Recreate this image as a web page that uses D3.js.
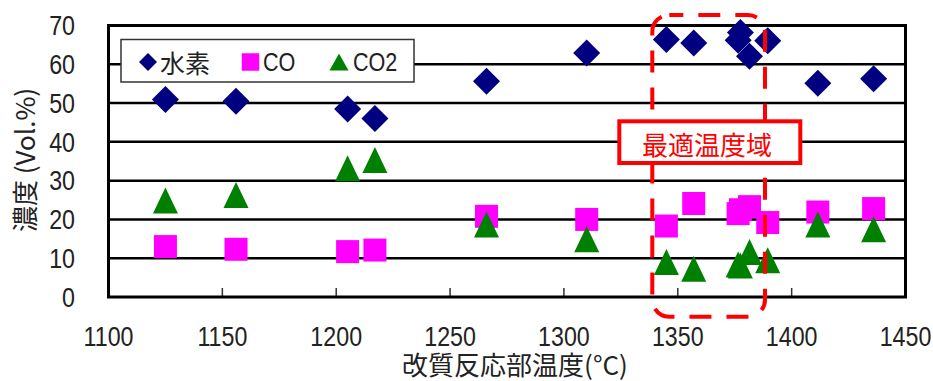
<!DOCTYPE html>
<html>
<head>
<meta charset="utf-8">
<script src="https://cdn.jsdelivr.net/npm/d3@7"></script>
<style>
  html, body { margin: 0; padding: 0; background: #fff; }
  svg { display: block; }
</style>
</head>
<body>
<svg id="chart" width="933" height="381"></svg>
<script>
// ---- data ----
const temps = [1125, 1156, 1205, 1217, 1266, 1310, 1345, 1357, 1376.5, 1377.5, 1381.5, 1389.5, 1411.5, 1436];
const h2    = [50.9, 50.5, 48.5, 46.0, 55.6, 62.9, 66.4, 65.5, 66.2, 68.2, 62.1, 66.1, 55.1, 56.3];
const co    = [13.0, 12.3, 11.7, 12.1, 20.8, 20.0, 18.3, 24.1, 21.5, 22.5, 23.3, 19.2, 21.9, 22.8];
const co2   = [24.9, 26.3, 33.2, 35.3, 18.7, 14.9, 9.0, 7.3, 8.4, 8.1, 11.6, 9.5, 18.7, 17.5];
const seriesNames = ["水素", "CO", "CO2"];
const xTicks = [1100, 1150, 1200, 1250, 1300, 1350, 1400, 1450];
const yTicks = [0, 10, 20, 30, 40, 50, 60, 70];
const xTitle = "改質反応部温度(°C)";
const yTitle = "濃度 (Vol.%)";
const annotationText = "最適温度域";

// ---- setup ----
const svg = d3.select("#chart");
const x = d3.scaleLinear().domain([1100, 1450]).range([108.5, 905.5]);
const y = d3.scaleLinear().domain([0, 70]).range([297, 25.5]);
const numFont = "'Liberation Sans', Arial, sans-serif";
const cjkFont = "'Noto Sans CJK JP', 'Noto Sans CJK SC', sans-serif";
const colors = { h2: "#000080", co: "#ff00ff", co2: "#008000" };
const NARROW = 0.83;

// gridlines
svg.append("g").selectAll("line").data(yTicks.filter(v => v > 0 && v < 70)).join("line")
  .attr("x1", x(1100)).attr("x2", x(1450))
  .attr("y1", d => y(d)).attr("y2", d => y(d))
  .attr("stroke", "#000").attr("stroke-width", 2.5);

// inner bottom ticks
svg.append("g").selectAll("line").data(xTicks.slice(1, -1)).join("line")
  .attr("x1", d => x(d)).attr("x2", d => x(d))
  .attr("y1", y(0)).attr("y2", y(0) - 9)
  .attr("stroke", "#333").attr("stroke-width", 1.5);

// frame
svg.append("rect")
  .attr("x", x(1100)).attr("y", y(70))
  .attr("width", x(1450) - x(1100)).attr("height", y(0) - y(70))
  .attr("fill", "none").attr("stroke", "#000").attr("stroke-width", 3);

// tick labels (narrow digits)
svg.append("g").selectAll("text").data(xTicks).join("text")
  .attr("transform", d => `translate(${x(d)},336) scale(${NARROW},1)`)
  .attr("text-anchor", "middle").attr("dominant-baseline", "central")
  .attr("font-family", numFont).attr("font-size", 28).attr("fill", "#222")
  .text(d => d);
svg.append("g").selectAll("text").data(yTicks).join("text")
  .attr("transform", d => `translate(75,${y(d)}) scale(${NARROW},1)`)
  .attr("text-anchor", "end").attr("dominant-baseline", "central")
  .attr("font-family", numFont).attr("font-size", 28).attr("fill", "#222")
  .text(d => d);

// axis titles
svg.append("text")
  .attr("x", 515).attr("y", 363)
  .attr("text-anchor", "middle").attr("dominant-baseline", "central")
  .attr("font-family", cjkFont).attr("font-size", 26).attr("fill", "#222")
  .text(xTitle);
svg.append("text")
  .attr("transform", "translate(23,160) rotate(-90)")
  .attr("text-anchor", "middle").attr("dominant-baseline", "central")
  .attr("font-family", cjkFont).attr("font-size", 26).attr("fill", "#222")
  .text(yTitle);

// marker path generators
function diamond(cx, cy, r) { return `M${cx},${cy - r}L${cx + r},${cy}L${cx},${cy + r}L${cx - r},${cy}Z`; }
function square(cx, cy, s) { return `M${cx - s / 2},${cy - s / 2}h${s}v${s}h${-s}Z`; }
function triangle(cx, cy, w, h) { return `M${cx},${cy - h / 2}L${cx + w / 2},${cy + h / 2}L${cx - w / 2},${cy + h / 2}Z`; }

// series
const gPts = svg.append("g");
gPts.append("g").selectAll("path").data(d3.zip(temps, h2)).join("path")
  .attr("d", d => diamond(x(d[0]), y(d[1]), 13.5)).attr("fill", colors.h2);
gPts.append("g").selectAll("path").data(d3.zip(temps, co)).join("path")
  .attr("d", d => square(x(d[0]), y(d[1]), 23)).attr("fill", colors.co);
gPts.append("g").selectAll("path").data(d3.zip(temps, co2)).join("path")
  .attr("d", d => triangle(x(d[0]), y(d[1]), 25, 26)).attr("fill", colors.co2);

// dashed rounded annotation rectangle
svg.append("rect")
  .attr("x", 652.3).attr("y", 15).attr("width", 112.7).attr("height", 301.7)
  .attr("rx", 17).attr("ry", 17)
  .attr("fill", "none").attr("stroke", "#ff0000").attr("stroke-width", 4)
  .attr("stroke-dasharray", "22,15").attr("stroke-dashoffset", 8);

// annotation label box
svg.append("rect")
  .attr("x", 619.3).attr("y", 121.3).attr("width", 181).attr("height", 41.7)
  .attr("fill", "#fff").attr("stroke", "#ff0000").attr("stroke-width", 4);
svg.append("text")
  .attr("x", 707).attr("y", 143)
  .attr("text-anchor", "middle").attr("dominant-baseline", "central")
  .attr("font-family", cjkFont).attr("font-size", 26).attr("fill", "#ff0000")
  .text(annotationText);

// legend
const lg = svg.append("g");
lg.append("rect").attr("x", 121).attr("y", 39.5).attr("width", 293).attr("height", 42.5)
  .attr("fill", "#fff").attr("stroke", "#333").attr("stroke-width", 1.5);
const ly = 62;
lg.append("path").attr("d", diamond(148, ly, 9)).attr("fill", colors.h2);
lg.append("path").attr("d", square(250.5, ly, 17.5)).attr("fill", colors.co);
lg.append("path").attr("d", triangle(339, ly, 19, 17)).attr("fill", colors.co2);
lg.append("text").attr("x", 160).attr("y", ly).attr("dominant-baseline", "central")
  .attr("font-family", cjkFont).attr("font-size", 25).attr("fill", "#222").text(seriesNames[0]);
lg.append("text").attr("transform", `translate(263,${ly}) scale(${NARROW},1)`).attr("dominant-baseline", "central")
  .attr("font-family", numFont).attr("font-size", 26).attr("fill", "#222").text(seriesNames[1]);
lg.append("text").attr("transform", `translate(353,${ly}) scale(${NARROW},1)`).attr("dominant-baseline", "central")
  .attr("font-family", numFont).attr("font-size", 26).attr("fill", "#222").text(seriesNames[2]);
</script>
</body>
</html>
